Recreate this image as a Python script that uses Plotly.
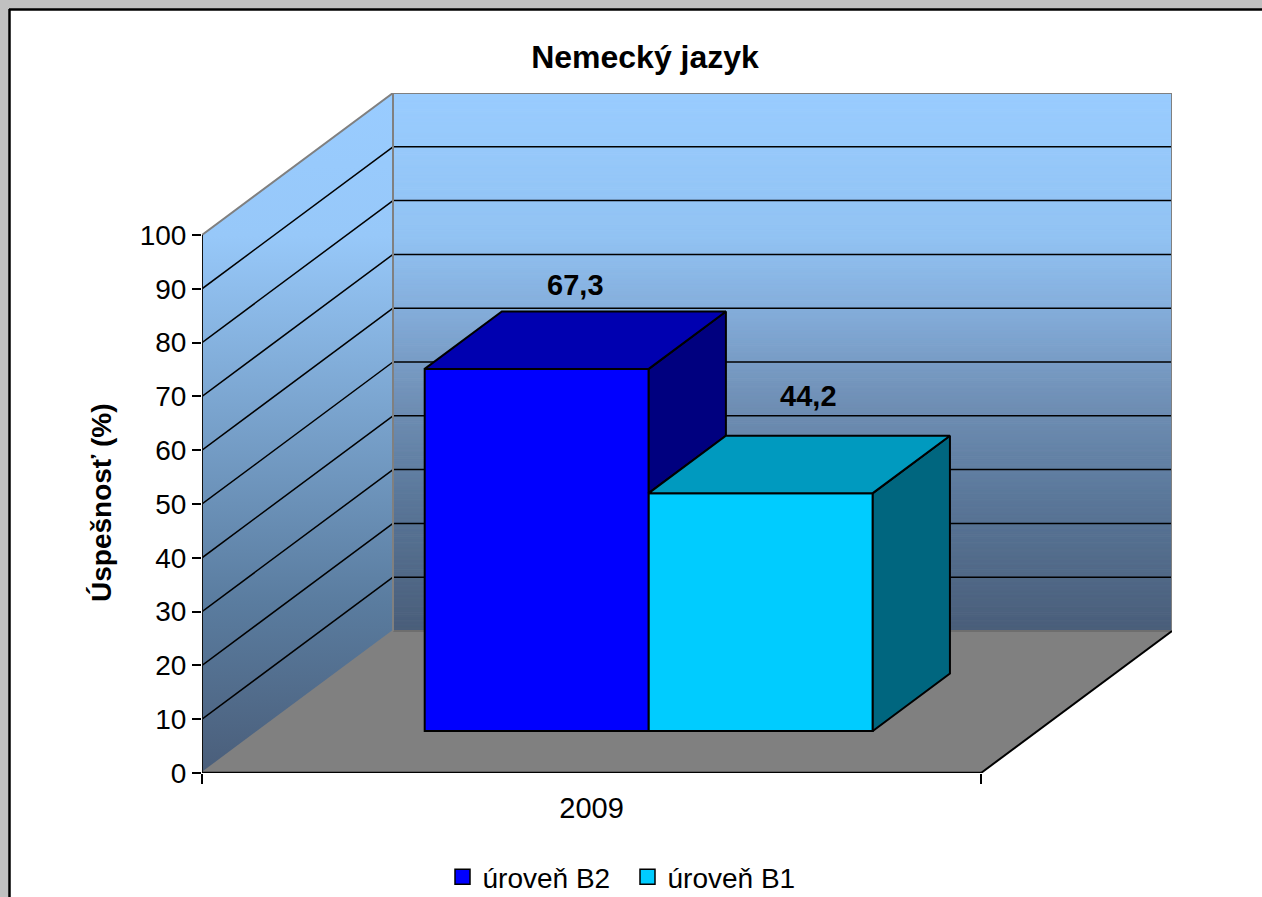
import plotly.graph_objects as go

# --- data ---
title = "Nemecký jazyk"
year_label = "2009"
y_title = "Úspešnosť (%)"
series_names = ["úroveň B2", "úroveň B1"]
series_values = [67.3, 44.2]
value_labels = ["67,3", "44,2"]
y_ticks = [0, 10, 20, 30, 40, 50, 60, 70, 80, 90, 100]

# --- styles ---
front_colors = ["#0000FF", "#00CCFF"]
top_colors = ["#0000B0", "#009ABF"]
side_colors = ["#00007F", "#00667F"]
label_dx_px = [0, 9]
label_dy_px = [24, 37]
FONT = "Liberation Sans, Arial, sans-serif"
GREY = "#808080"
# gradient stops (fraction of wall height from the top, RGB)
back_stops = [(0, (153, 204, 255)), (0.265, (146, 195, 243)), (0.386, (134, 176, 222)),
              (0.571, (112, 144, 182)), (0.757, (90, 119, 153)), (1, (74, 94, 122))]
side_stops = [(0, (153, 204, 255)), (0.21, (151, 200, 249)), (0.75, (90, 124, 159)), (1, (74, 94, 122))]

# --- layout geometry (page pixels) ---
W, H = 1262, 897
X0, X1 = 202, 981      # front edge of the floor
Y0, Y100 = 773, 235    # value 0 and 100 on the front edge
SHIFT_X, SHIFT_Y = 191, 142   # full depth offset
PX_X = X1 - X0
PX_Y = (Y0 - Y100) / 100
DX = SHIFT_X / PX_X    # depth shift in x-axis units
DY = SHIFT_Y / PX_Y    # depth shift in y-axis units
X_MAX = 1 + DX
Y_MAX = 100 + DY

BAR_D0, BAR_D1 = 0.296, 0.70
GAP = 0.2133
BAR_W = (1 - 2 * 0.2124) / 2


def P(x, v, d=0.0):
    """3D to axis coordinates (oblique projection)."""
    return x + d * DX, v + d * DY


def poly_path(points):
    return "M" + "L".join(f"{a},{b}" for a, b in points) + "Z"


def px_paper(px, py):
    return (px - X0) / (X_MAX * PX_X), (Y0 - py) / (Y_MAX * PX_Y)


def stop_color(stops, t):
    for (t0, c0), (t1, c1) in zip(stops, stops[1:]):
        if t <= t1:
            f = (t - t0) / (t1 - t0)
            return "rgb(%d,%d,%d)" % tuple(round(a + (b - a) * f) for a, b in zip(c0, c1))
    return "rgb(%d,%d,%d)" % stops[-1][1]


shapes = []
# white chart sheet with black left/top border
sx0, sy0 = px_paper(10, 10)
sx1, sy1 = px_paper(W + 5, H + 5)
shapes.append(dict(type="rect", xref="paper", yref="paper", x0=sx0, x1=sx1, y0=sy0, y1=sy1,
                   fillcolor="white", line_width=0, layer="below"))
for a, b, c, d in [(9.5, 9, 9.5, H + 5), (9, 9.5, W + 5, 9.5)]:
    ax, ay = px_paper(a, b)
    cx, cy = px_paper(c, d)
    shapes.append(dict(type="line", xref="paper", yref="paper", x0=ax, y0=ay, x1=cx, y1=cy,
                       line=dict(color="black", width=2.5), layer="below"))

# back wall gradient built from thin strips
STEP = 0.5
n = int(100 / STEP)
for i in range(n):
    v_hi = 100 - i * STEP
    v_lo = v_hi - STEP
    col = stop_color(back_stops, (i + 0.5) / n)
    shapes.append(dict(type="path", path=poly_path([P(0, v_lo, 1), P(1, v_lo, 1), P(1, v_hi, 1), P(0, v_hi, 1)]),
                       fillcolor=col, line=dict(color=col, width=1), layer="below"))

# floor
shapes.append(dict(type="path", path=poly_path([P(0, 0, 0), P(1, 0, 0), P(1, 0, 1), P(0, 0, 1)]),
                   fillcolor=GREY, line_width=0, layer="below"))
# back wall gridlines and the back edge of the floor (behind the bars)
for v in y_ticks[1:-1]:
    a, b = P(0, v, 1), P(1, v, 1)
    shapes.append(dict(type="line", x0=a[0], y0=a[1], x1=b[0], y1=b[1],
                       line=dict(color="black", width=1.5), layer="below"))
a, b = P(0, 0, 1), P(1, 0, 1)
shapes.append(dict(type="line", x0=a[0], y0=a[1], x1=b[0], y1=b[1],
                   line=dict(color="#6E6E6E", width=2), layer="below"))

fig = go.Figure()


def seg_trace(points, color, width):
    xs, ys = [], []
    for p in points:
        if p is None:
            xs.append(None)
            ys.append(None)
        else:
            xs.append(p[0])
            ys.append(p[1])
    fig.add_trace(go.Scatter(x=xs, y=ys, mode="lines", line=dict(color=color, width=width),
                             showlegend=False, hoverinfo="skip", cliponaxis=False))


# side wall with a vertical gradient
wall = [P(0, 0, 0), P(0, 100, 0), P(0, 100, 1), P(0, 0, 1), P(0, 0, 0)]
fig.add_trace(go.Scatter(
    x=[p[0] for p in wall], y=[p[1] for p in wall], mode="lines", fill="toself", line=dict(width=0),
    fillgradient=dict(type="vertical", start=Y_MAX, stop=0,
                      colorscale=[[t, "rgb(%d,%d,%d)" % c] for t, c in side_stops]),
    showlegend=False, hoverinfo="skip"))

# side wall gridlines
for v in y_ticks[1:-1]:
    seg_trace([P(0, v, 0), P(0, v, 1)], "black", 1.5)

# wall outlines
seg_trace([P(0, 100, 0), P(0, 100, 1), P(1, 100, 1), P(1, 0, 1), None, P(0, 0, 1), P(0, 100, 1), None,
           P(0, 0, 0), P(0, 0, 1)], GREY, 2)
seg_trace([P(1, 0, 0), P(1, 0, 1)], "black", 2)
seg_trace([P(0, 0, 0), P(0, 100, 0)], "#111111", 2)
seg_trace([P(0, 0, 0), P(1, 0, 0)], "black", 2.5)

# bars
base = BAR_D0 * DY
for i, (name, val) in enumerate(zip(series_names, series_values)):
    xl = GAP + i * BAR_W
    front_l = P(xl, 0, BAR_D0)[0]
    fig.add_trace(go.Bar(x=[front_l + BAR_W / 2], y=[val], base=[base], width=[BAR_W], name=name,
                         marker=dict(color=front_colors[i], line=dict(color="black", width=2)),
                         showlegend=False, hoverinfo="skip"))

for i, val in enumerate(series_values):
    xl = GAP + i * BAR_W
    xr = xl + BAR_W
    # side face: only the part not hidden by the next bar
    floor_v = series_values[i + 1] if i + 1 < len(series_values) else 0
    pts = [P(xr, floor_v, BAR_D0), P(xr, floor_v, BAR_D1), P(xr, val, BAR_D1), P(xr, val, BAR_D0), P(xr, floor_v, BAR_D0)]
    fig.add_trace(go.Scatter(x=[p[0] for p in pts], y=[p[1] for p in pts], mode="lines", fill="toself",
                             fillcolor=side_colors[i], line=dict(color="black", width=2),
                             showlegend=False, hoverinfo="skip"))
    pts = [P(xl, val, BAR_D0), P(xr, val, BAR_D0), P(xr, val, BAR_D1), P(xl, val, BAR_D1), P(xl, val, BAR_D0)]
    fig.add_trace(go.Scatter(x=[p[0] for p in pts], y=[p[1] for p in pts], mode="lines", fill="toself",
                             fillcolor=top_colors[i], line=dict(color="black", width=2),
                             showlegend=False, hoverinfo="skip"))
    lx, ly = P((xl + xr) / 2, val, BAR_D1)
    lx = P((xl + xr) / 2, val, (BAR_D0 + BAR_D1) / 2)[0] + label_dx_px[i] / PX_X
    ly += label_dy_px[i] / PX_Y
    fig.add_trace(go.Scatter(x=[lx], y=[ly], mode="text", text=[value_labels[i]], textposition="middle center",
                             textfont=dict(family=FONT, size=29, color="black", weight="bold"),
                             showlegend=False, hoverinfo="skip", cliponaxis=False))

# legend entries
for i, name in enumerate(series_names):
    fig.add_trace(go.Scatter(x=[None], y=[None], mode="markers", name=name,
                             marker=dict(symbol="square", size=15, color=front_colors[i],
                                         line=dict(color="black", width=1.5)),
                             hoverinfo="skip"))

lx_p, ly_p = px_paper(442.5, 877)
tx_p, ty_p = px_paper(101, 503)
fig.update_layout(
    width=W, height=H,
    margin=dict(l=X0, r=W - (X0 + X_MAX * PX_X), t=Y0 - Y_MAX * PX_Y, b=H - Y0, pad=0, autoexpand=False),
    paper_bgcolor="#C0C0C0", plot_bgcolor="rgba(0,0,0,0)",
    barmode="overlay", shapes=shapes, showlegend=True,
    title=dict(text=f"<b>{title}</b>", x=645 / W, xanchor="center", y=1 - 57 / H, yanchor="middle",
               font=dict(family=FONT, size=32, color="black")),
    font=dict(family=FONT, color="black"),
    xaxis=dict(range=[0, X_MAX], showgrid=False, zeroline=False, showline=False,
               tickmode="array", tickvals=[0.5], ticktext=[year_label], ticks="outside", ticklen=9,
               tickcolor="rgba(0,0,0,0)", tickfont=dict(family=FONT, size=29, color="black"),
               minor=dict(tickmode="array", tickvals=[0, 1], ticks="outside", ticklen=10, tickwidth=2,
                          tickcolor="black", showgrid=False)),
    yaxis=dict(range=[0, Y_MAX], showgrid=False, zeroline=False, showline=False,
               tickmode="array", tickvals=y_ticks, ticks="outside", ticklen=9, tickwidth=1.5, tickcolor="black",
               tickfont=dict(family=FONT, size=28, color="black")),
    annotations=[dict(text=f"<b>{y_title}</b>", xref="paper", yref="paper", x=tx_p, y=ty_p,
                      xanchor="center", yanchor="middle", textangle=-90, showarrow=False,
                      font=dict(family=FONT, size=28, color="black"))],
    legend=dict(orientation="h", x=lx_p, y=ly_p, xanchor="left", yanchor="middle",
                font=dict(family=FONT, size=28, color="black"), bgcolor="rgba(0,0,0,0)",
                entrywidth=140, entrywidthmode="pixels", traceorder="normal"),
)

fig.write_html("out.html", config=dict(displayModeBar=False),
               post_script="document.body.style.margin='0';document.body.style.overflow='hidden';")
